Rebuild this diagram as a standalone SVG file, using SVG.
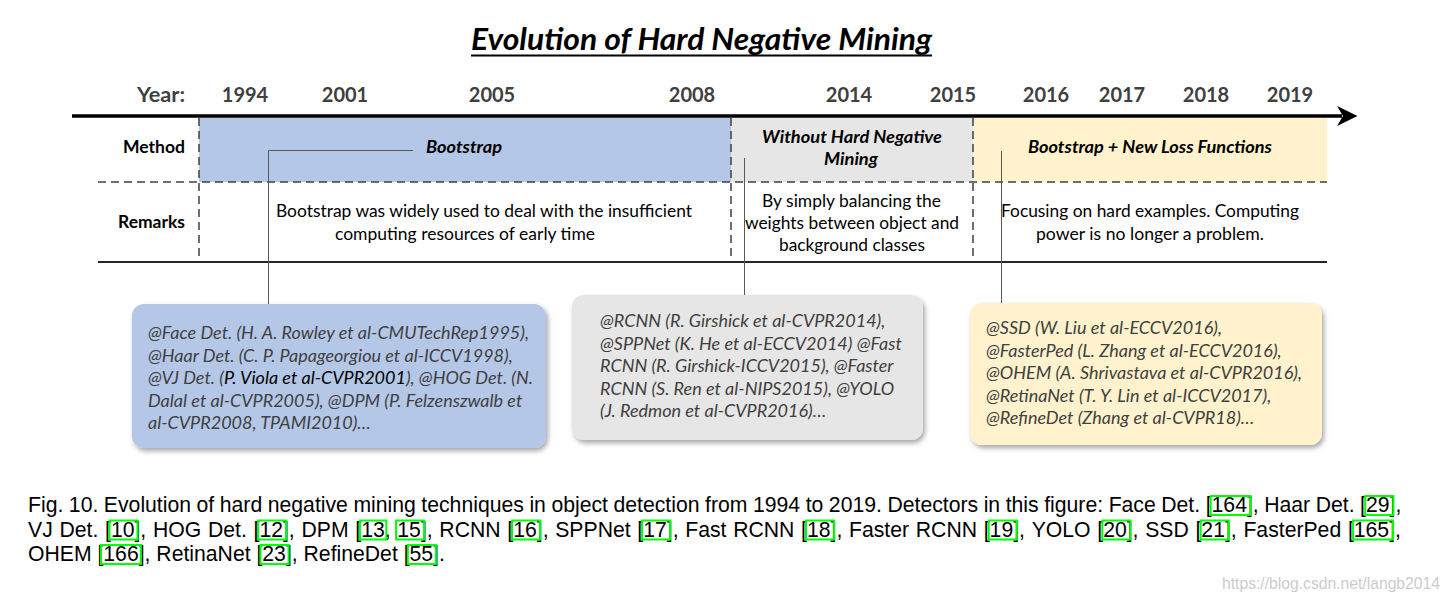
<svg xmlns="http://www.w3.org/2000/svg" width="1451" height="603" viewBox="0 0 1451 603">
<style>
.ttl{font-family:Lato,"Open Sans",sans-serif;font-weight:700;font-style:italic;font-size:30px;fill:#000}
.yr{font-family:Lato,"Open Sans",sans-serif;font-weight:700;font-size:20px;fill:#404040;text-anchor:middle}
.yl{font-family:Lato,"Open Sans",sans-serif;font-weight:700;font-size:20px;fill:#404040}
.lbl{font-family:Lato,"Open Sans",sans-serif;font-weight:700;font-size:16.5px;fill:#000}
.meth{font-family:Lato,"Open Sans",sans-serif;font-weight:700;font-style:italic;font-size:16.5px;fill:#000}
.rem{font-family:Lato,"Open Sans",sans-serif;font-size:17px;fill:#000}
.bx{font-family:Lato,"Open Sans",sans-serif;font-style:italic;font-size:18px;fill:#404040}
.dash{stroke:#404040;stroke-width:1.5;stroke-dasharray:8 5;fill:none}
.conn{stroke:#595959;stroke-width:1;fill:none}
.dot{fill:#595959}
.cap{font-family:"Liberation Sans",Arial,sans-serif;font-size:21.2px;fill:#000;font-kerning:none}
.gb{fill:none;stroke:#00ff00;stroke-width:2}
.wm{font-family:"Liberation Sans",Arial,sans-serif;font-size:15.7px;fill:#cccccc}
</style>
<defs>
<filter id="sh" x="-10%" y="-10%" width="125%" height="130%">
<feDropShadow dx="2" dy="3" stdDeviation="2.5" flood-color="#000" flood-opacity="0.35"/>
</filter>
</defs>
<rect width="1451" height="603" fill="#ffffff"/>

<g id="title">
<text class="ttl" x="471" y="50" textLength="461" lengthAdjust="spacingAndGlyphs">Evolution of Hard Negative Mining</text>
<line x1="471" y1="55.5" x2="932" y2="55.5" stroke="#000" stroke-width="2"/>
</g>

<g id="timeline-bands">
<rect x="199" y="117.5" width="532" height="64.5" fill="#b4c7e7"/>
<rect x="731" y="117.5" width="242" height="64.5" fill="#e7e6e6"/>
<rect x="973" y="117.5" width="354" height="64.5" fill="#fff2cc"/>
</g>

<g id="axis">
<line x1="72" y1="116" x2="1342" y2="116" stroke="#000" stroke-width="3.5"/>
<polygon points="1357.5,116 1337,106 1343,116 1337,126" fill="#000"/>
</g>

<g id="years">
<text class="yl" x="137" y="102" textLength="48" lengthAdjust="spacingAndGlyphs">Year:</text>
<text class="yr" x="245" y="102">1994</text>
<text class="yr" x="345" y="102">2001</text>
<text class="yr" x="492" y="102">2005</text>
<text class="yr" x="692" y="102">2008</text>
<text class="yr" x="849" y="102">2014</text>
<text class="yr" x="953" y="102">2015</text>
<text class="yr" x="1046" y="102">2016</text>
<text class="yr" x="1122" y="102">2017</text>
<text class="yr" x="1206" y="102">2018</text>
<text class="yr" x="1290" y="102">2019</text>
</g>

<g id="table-lines">
<line class="dash" x1="98" y1="182" x2="1327" y2="182"/>
<line class="dash" x1="199" y1="118" x2="199" y2="261"/>
<line class="dash" x1="731" y1="118" x2="731" y2="261"/>
<line class="dash" x1="973" y1="118" x2="973" y2="261"/>
<line x1="98" y1="262" x2="1327" y2="262" stroke="#262626" stroke-width="2"/>
</g>

<g id="row-labels">
<text class="lbl" x="123" y="153" textLength="62" lengthAdjust="spacingAndGlyphs">Method</text>
<text class="lbl" x="118" y="228" textLength="67" lengthAdjust="spacingAndGlyphs">Remarks</text>
</g>

<g id="connectors">
<path class="conn" d="M413,150.5 H268.5 V318"/>
<circle class="dot" cx="268.5" cy="318" r="2.5"/>
<path class="conn" d="M744.5,158 V304"/>
<circle class="dot" cx="744.5" cy="304" r="2.5"/>
<path class="conn" d="M1001.5,151 V314"/>
<circle class="dot" cx="1001.5" cy="314" r="2.5"/>
</g>

<g id="method-bootstrap">
<text class="meth" x="426" y="153" textLength="76" lengthAdjust="spacingAndGlyphs">Bootstrap</text>
</g>
<g id="method-without">
<text class="meth" x="762" y="143" textLength="180" lengthAdjust="spacingAndGlyphs">Without Hard Negative</text>
<text class="meth" x="824" y="165" textLength="54" lengthAdjust="spacingAndGlyphs">Mining</text>
</g>
<g id="method-newloss">
<text class="meth" x="1028" y="153" textLength="244" lengthAdjust="spacingAndGlyphs">Bootstrap + New Loss Functions</text>
</g>

<g id="remark-bootstrap">
<text class="rem" x="276" y="217" textLength="416" lengthAdjust="spacingAndGlyphs">Bootstrap was widely used to deal with the insufficient</text>
<text class="rem" x="335" y="240" textLength="260" lengthAdjust="spacingAndGlyphs">computing resources of early time</text>
</g>
<g id="remark-without">
<text class="rem" x="762" y="207" textLength="179" lengthAdjust="spacingAndGlyphs">By simply balancing the</text>
<text class="rem" x="745" y="229" textLength="214" lengthAdjust="spacingAndGlyphs">weights between object and</text>
<text class="rem" x="779" y="251" textLength="146" lengthAdjust="spacingAndGlyphs">background classes</text>
</g>
<g id="remark-newloss">
<text class="rem" x="1001" y="217" textLength="298" lengthAdjust="spacingAndGlyphs">Focusing on hard examples. Computing</text>
<text class="rem" x="1036" y="240" textLength="228" lengthAdjust="spacingAndGlyphs">power is no longer a problem.</text>
</g>

<g id="box-bootstrap">
<rect x="132" y="304" width="414" height="144" rx="12" fill="#b4c7e7" filter="url(#sh)"/>
<text class="bx" x="148" y="339">@Face Det. (H. A. Rowley et al-CMUTechRep1995),</text>
<text class="bx" x="148" y="361.5">@Haar Det. (C. P. Papageorgiou et al-ICCV1998),</text>
<text class="bx" x="148" y="384">@VJ Det. (<tspan fill="#000">P. Viola et al-CVPR2001</tspan>), @HOG Det. (N.</text>
<text class="bx" x="148" y="406.5">Dalal et al-CVPR2005), @DPM (P. Felzenszwalb et</text>
<text class="bx" x="148" y="429">al-CVPR2008, TPAMI2010)…</text>
</g>

<g id="box-without">
<rect x="572" y="295" width="351" height="145" rx="12" fill="#e7e6e6" filter="url(#sh)"/>
<text class="bx" x="600" y="327">@RCNN (R. Girshick et al-CVPR2014),</text>
<text class="bx" x="600" y="349.5">@SPPNet (K. He et al-ECCV2014) @Fast</text>
<text class="bx" x="600" y="372">RCNN (R. Girshick-ICCV2015), @Faster</text>
<text class="bx" x="600" y="394.5">RCNN (S. Ren et al-NIPS2015), @YOLO</text>
<text class="bx" x="600" y="417">(J. Redmon et al-CVPR2016)…</text>
</g>

<g id="box-newloss">
<rect x="970" y="303" width="352" height="142" rx="12" fill="#fff2cc" filter="url(#sh)"/>
<text class="bx" x="986" y="334">@SSD (W. Liu et al-ECCV2016),</text>
<text class="bx" x="986" y="356.5">@FasterPed (L. Zhang et al-ECCV2016),</text>
<text class="bx" x="986" y="379">@OHEM (A. Shrivastava et al-CVPR2016),</text>
<text class="bx" x="986" y="401.5">@RetinaNet (T. Y. Lin et al-ICCV2017),</text>
<text class="bx" x="986" y="424">@RefineDet (Zhang et al-CVPR18)…</text>
</g>

<g id="caption">
<text class="cap" x="28" y="512" word-spacing="-0.34">Fig. 10. Evolution of hard negative mining techniques in object detection from 1994 to 2019. Detectors in this figure: Face Det. [164], Haar Det. [29],</text>
<text class="cap" x="28" y="536.5" word-spacing="0.83">VJ Det. [10], HOG Det. [12], DPM [13, 15], RCNN [16], SPPNet [17], Fast RCNN [18], Faster RCNN [19], YOLO [20], SSD [21], FasterPed [165],</text>
<text class="cap" x="28" y="561">OHEM [166], RetinaNet [23], RefineDet [55].</text>
<rect class="gb" x="1210.7" y="496" width="39.9" height="19"/>
<rect class="gb" x="1365.2" y="496" width="28.1" height="19"/>
<rect class="gb" x="109.5" y="520.5" width="28.1" height="19"/>
<rect class="gb" x="258.1" y="520.5" width="28.1" height="19"/>
<rect class="gb" x="359.9" y="520.5" width="26.4" height="19"/>
<rect class="gb" x="396.1" y="520.5" width="28.1" height="19"/>
<rect class="gb" x="512.0" y="520.5" width="28.1" height="19"/>
<rect class="gb" x="642.1" y="520.5" width="28.1" height="19"/>
<rect class="gb" x="806.0" y="520.5" width="28.1" height="19"/>
<rect class="gb" x="988.7" y="520.5" width="28.1" height="19"/>
<rect class="gb" x="1102.3" y="520.5" width="28.1" height="19"/>
<rect class="gb" x="1200.6" y="520.5" width="28.1" height="19"/>
<rect class="gb" x="1353.1" y="520.5" width="39.9" height="19"/>
<rect class="gb" x="101.0" y="545" width="39.9" height="19"/>
<rect class="gb" x="260.5" y="545" width="28.1" height="19"/>
<rect class="gb" x="407.8" y="545" width="28.1" height="19"/>
</g>

<g id="watermark">
<text class="wm" x="1222" y="589" textLength="218" lengthAdjust="spacingAndGlyphs">https://blog.csdn.net/langb2014</text>
</g>
</svg>
